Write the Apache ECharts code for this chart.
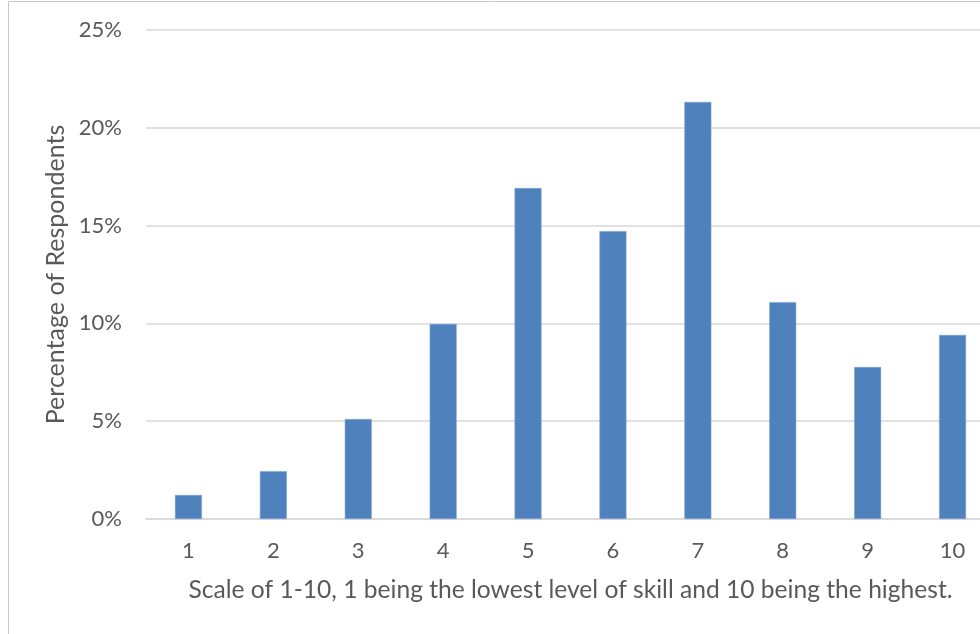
<!DOCTYPE html>
<html><head><meta charset="utf-8">
<script src="https://cdn.jsdelivr.net/npm/echarts@6/dist/echarts.min.js"></script>
<style>html,body{margin:0;padding:0;background:#fff}#c{width:980px;height:634px}</style>
</head><body><div id="c"></div>
<script>
const categories = ['1','2','3','4','5','6','7','8','9','10'];
const values = [0.0123, 0.0245, 0.0511, 0.0997, 0.1692, 0.1472, 0.2132, 0.1109, 0.0777, 0.0941];
const yTicks = [0, 0.05, 0.10, 0.15, 0.20, 0.25];
const xTitle = 'Scale of 1-10, 1 being the lowest level of skill and 10 being the highest.';
const yTitle = 'Percentage of Respondents';

const font = 'Lato, "Open Sans", sans-serif';
const chart = echarts.init(document.getElementById('c'), null, {renderer:'canvas'});
chart.setOption({
  animation: false,
  backgroundColor: '#fff',
  graphic: [{type:'rect', shape:{x:8.5,y:1.5,width:1000,height:700}, style:{fill:'none', stroke:'#c6c6c6', lineWidth:1}, silent:true, z:-1}],
  grid: {left:146, top:30, width:849, height:489, containLabel:false, outerBoundsMode:'none'},
  xAxis: {
    type:'category', data: categories,
    axisLine:{show:true, lineStyle:{color:'#d9d9d9', width:1.5}},
    axisTick:{show:false},
    axisLabel:{color:'#595959', fontSize:22, fontFamily:font, margin:21},
    name: xTitle, nameLocation:'middle', nameGap:59,
    nameTextStyle:{color:'#595959', fontSize:24.6, fontFamily:font}
  },
  yAxis: {
    type:'value', min:yTicks[0], max:yTicks[yTicks.length-1], interval:0.05,
    axisLine:{show:false}, axisTick:{show:false},
    splitLine:{lineStyle:{color:'#d9d9d9', width:1.5}},
    axisLabel:{color:'#595959', fontSize:22, fontFamily:font, margin:24,
      formatter: v => Math.round(v*100) + '%'},
    name: yTitle, nameLocation:'middle', nameGap:73,
    nameTextStyle:{color:'#595959', fontSize:25, fontFamily:font}
  },
  series: [{
    type:'bar', data: values, barWidth:27,
    itemStyle:{color:'#4f81bd', borderColor:'#7fa3d3', borderWidth:0.6}
  }]
});
</script></body></html>
